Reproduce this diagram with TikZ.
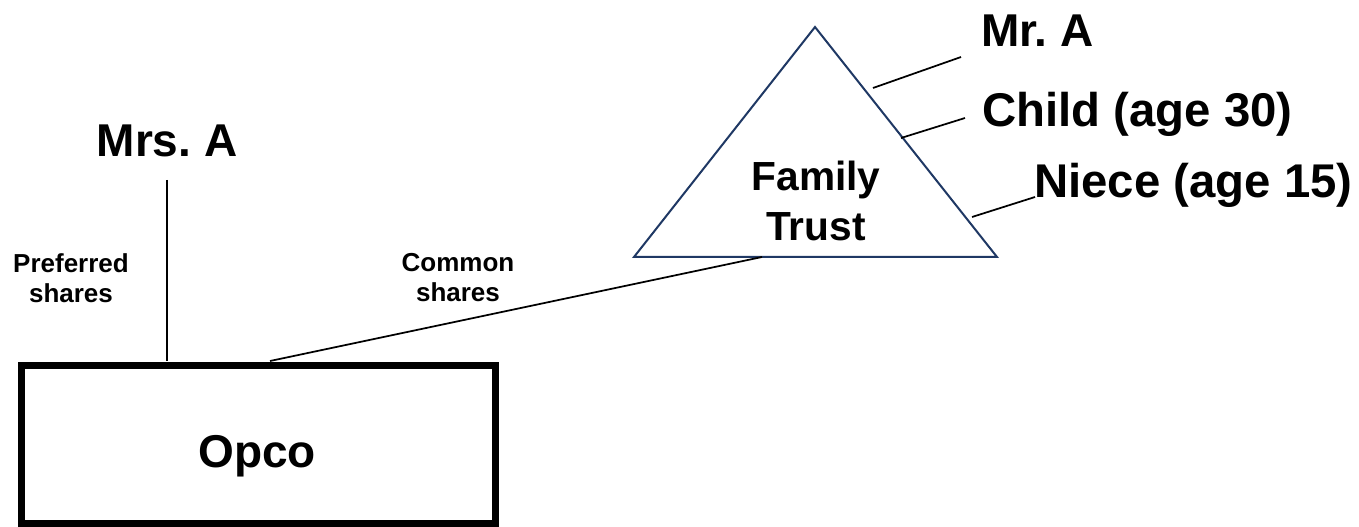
\documentclass[tikz,border=0pt]{standalone}
\usepackage{fontspec}
\setmainfont{Liberation Sans}
\usepackage{xcolor}
\definecolor{trustblue}{RGB}{31,56,100}
\frenchspacing

\begin{document}
\begin{tikzpicture}[x=0.75pt,y=-0.75pt]
        \newcommand{\bigfont}{\fontsize{34.5}{40}\selectfont\bfseries}
        \newcommand{\kinfont}{\fontsize{35.5}{40}\selectfont\bfseries}
        \newcommand{\trustfont}{\fontsize{30.5}{37.5}\selectfont\bfseries}
        \newcommand{\sharefont}{\fontsize{19.5}{22.5}\selectfont\bfseries}
        \newcommand{\thinline}{1.3pt}
        \useasboundingbox (0,0) rectangle (1359,527);
        % Opco box and its owners
        \node[draw, line width=5.25pt, minimum width=355.5pt, minimum height=118.5pt, inner sep=0pt] (opco) at (258,444) {};
        \node[anchor=base, inner sep=0pt, font=\bigfont] (opcotext) at (257,467) {Opco};
        \node[anchor=base, inner sep=0pt, font=\bigfont] (mrsa) at (167,157) {Mrs. A};
        \coordinate (mrsaend) at (167,180);
        \coordinate (opcopref) at (167,361);
        \coordinate (opcocommon) at (270,361);
        \node[align=center, inner sep=0pt, font=\sharefont] (pref) at (71,278.5) {Preferred\\shares};
        \node[align=center, inner sep=0pt, font=\sharefont] (common) at (458,278) {Common\\shares};
        % Family trust triangle
        \coordinate (apex) at (815,27);
        \coordinate (baseleft) at (634,257);
        \coordinate (baseright) at (997,257);
        \coordinate (basecommon) at (762,257);
        \draw[trustblue, line width=1.5pt, line join=miter] (apex) -- (baseleft) -- (baseright) -- cycle;
        \node[align=center, inner sep=0pt, font=\trustfont] (trust) at (816,200.5) {Family\\Trust};
        % beneficiaries
        \node[anchor=base west, inner sep=0pt, font=\bigfont] (mra) at (981,47) {Mr. A};
        \node[anchor=base west, inner sep=0pt, font=\kinfont] (child) at (982,127) {Child (age 30)};
        \node[anchor=base west, inner sep=0pt, font=\kinfont] (niece) at (1034,198) {Niece (age 15)};
        \coordinate (mraside) at (873,88);
        \coordinate (mraend) at (961,57);
        \coordinate (childside) at (901,138);
        \coordinate (childend) at (965,118);
        \coordinate (nieceside) at (972,217);
        \coordinate (nieceend) at (1035,197);
        \draw[line width=\thinline] (mrsaend) -- (opcopref);
        \draw[line width=\thinline] (opcocommon) -- (basecommon);
        \draw[line width=\thinline] (mraside) -- (mraend);
        \draw[line width=\thinline] (childside) -- (childend);
        \draw[line width=\thinline] (nieceside) -- (nieceend);
    \end{tikzpicture}
\end{document}
